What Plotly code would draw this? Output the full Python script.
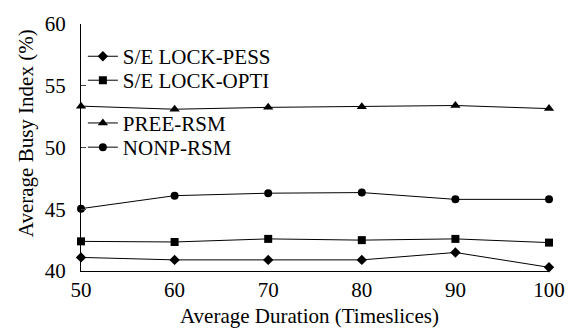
import plotly.graph_objects as go

durations = [50, 60, 70, 80, 90, 100]
pess = [41.1, 40.9, 40.9, 40.9, 41.5, 40.3]
opti = [42.4, 42.35, 42.6, 42.5, 42.6, 42.3]
pree = [53.35, 53.1, 53.25, 53.3, 53.4, 53.15]
nonp = [45.05, 46.1, 46.3, 46.35, 45.8, 45.8]
names = ["S/E LOCK-PESS", "S/E LOCK-OPTI", "PREE-RSM", "NONP-RSM"]
x_title = "Average Duration (Timeslices)"
y_title = "Average Busy Index (%)"

font = "Liberation Serif"
fig = go.Figure()
series = [
    (names[0], pess, "diamond", 8, "legend2", 0.868),
    (names[1], opti, "square", 8, "legend3", 0.771),
    (names[2], pree, "triangle-up", 9, "legend4", 0.598),
    (names[3], nonp, "circle", 8, "legend5", 0.50),
]
layout_legends = {}
for name, vals, sym, sz, lg, ly in series:
    fig.add_trace(go.Scatter(
        x=durations, y=vals, name=name, mode="lines+markers",
        line=dict(color="black", width=1),
        marker=dict(symbol=sym, size=sz, color="black"),
        legend=lg, cliponaxis=False,
    ))
    layout_legends[lg] = dict(x=0.004, y=ly, xanchor="left", yanchor="middle",
                              bgcolor="rgba(0,0,0,0)",
                              font=dict(size=21, family=font, color="black"),
                              itemwidth=30)

fig.update_layout(
    width=577, height=335,
    margin=dict(l=81, r=15, t=16, b=64),
    plot_bgcolor="white", paper_bgcolor="white",
    font=dict(family=font, size=21, color="black"),
    **layout_legends,
)
fig.add_annotation(text=x_title, xref="paper", yref="paper", x=0.488, y=-0.184,
                   xanchor="center", yanchor="middle", showarrow=False,
                   font=dict(size=21, family=font, color="black"))
fig.add_annotation(text=y_title, xref="paper", yref="paper", x=-0.116, y=0.557,
                   xanchor="center", yanchor="middle", showarrow=False, textangle=-90,
                   font=dict(size=21, family=font, color="black"))
fig.update_xaxes(
    range=[50, 100], tickvals=durations, ticks="", ticklabeloverflow="allow",
    showline=True, linecolor="black", linewidth=1.2, showgrid=False, zeroline=False,
    tickfont=dict(size=21, family=font),
)
fig.update_yaxes(
    range=[40, 60], tickvals=[40, 45, 50, 55, 60], ticks="inside", ticklen=5,
    ticklabelstandoff=10,
    showline=True, linecolor="black", linewidth=1.2, showgrid=False, zeroline=False,
    tickfont=dict(size=21, family=font),
)
fig.write_html("out.html")
